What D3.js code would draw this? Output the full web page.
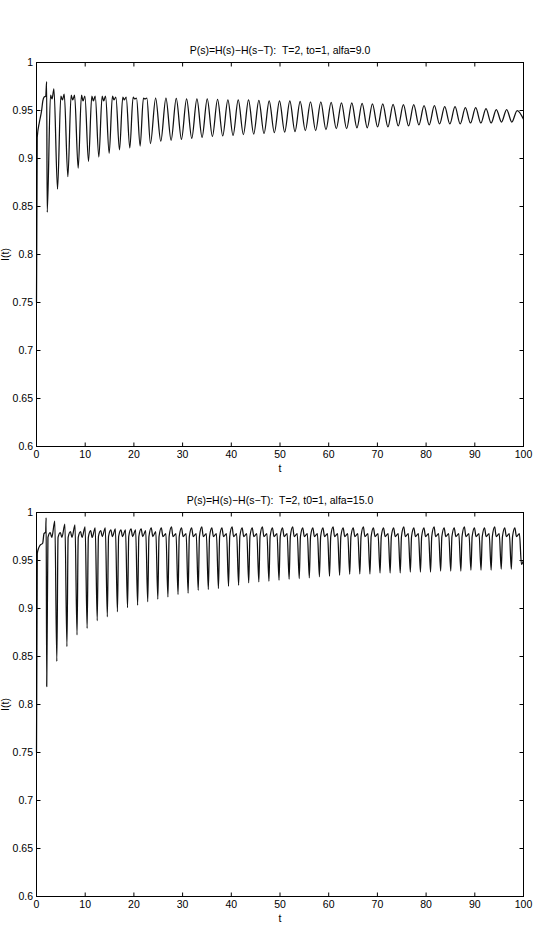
<!DOCTYPE html>
<html>
<head>
<meta charset="utf-8">
<script src="https://cdn.jsdelivr.net/npm/d3@7"></script>
<style>
body { margin: 0; background: #fff; }
text { font-family: "Liberation Sans", Arial, sans-serif; fill: #000; }
</style>
</head>
<body>
<div id="chart"></div>
<script>

// axis ticks
var xTicks = [0, 10, 20, 30, 40, 50, 60, 70, 80, 90, 100];
var yTicks = [0.6, 0.65, 0.7, 0.75, 0.8, 0.85, 0.9, 0.95, 1];

// top panel (alfa=9.0): first trough time, period, start and end of curve
var topTitle = "P(s)=H(s)\u2212H(s\u2212T):  T=2, to=1, alfa=9.0";
var topFirstTrough = 2.2;
var topPeriod = 2.12;
var topHeadT = [0, 0.15, 0.6, 1.05, 1.3, 1.55, 1.9, 2.08];
var topHeadI = [0.75, 0.922, 0.938, 0.950, 0.960, 0.964, 0.965, 0.980];
var topTrough = [0.844, 0.868, 0.881, 0.890, 0.897, 0.9015, 0.9055, 0.909, 0.911, 0.913,
    0.9156, 0.918, 0.919, 0.920, 0.921, 0.922, 0.923, 0.9235, 0.924, 0.925,
    0.9255, 0.926, 0.927, 0.9275, 0.928, 0.929, 0.929, 0.930, 0.931, 0.931,
    0.932, 0.932, 0.933, 0.933, 0.934, 0.934, 0.935, 0.935, 0.936, 0.936,
    0.936, 0.937, 0.937, 0.937, 0.938, 0.938];
var topPeak = [0.966, 0.965, 0.966, 0.966, 0.965, 0.965, 0.965, 0.964, 0.964, 0.963,
    0.963, 0.963, 0.9625, 0.962, 0.962, 0.962, 0.9615, 0.961, 0.961, 0.961,
    0.9605, 0.960, 0.960, 0.960, 0.9595, 0.959, 0.959, 0.9585, 0.958, 0.958,
    0.9575, 0.957, 0.957, 0.9565, 0.956, 0.956, 0.955, 0.955, 0.954, 0.954,
    0.953, 0.953, 0.952, 0.951, 0.951];
// early cycles have a double top
var topNotch = [0.962, 0.961, 0.961, 0.960, 0.960, 0.960, 0.961, 0.961, 0.962, 0.962];
var topPeak2 = [0.9725, 0.967, 0.966, 0.965, 0.965, 0.965, 0.964, 0.964, 0.963, 0.963];
var topTailT = [98.7, 100];
var topTailI = [0.950, 0.941];

// bottom panel (alfa=15.0)
var botTitle = "P(s)=H(s)\u2212H(s\u2212T):  T=2, t0=1, alfa=15.0";
var botFirstTrough = 2.1;
var botPeriod = 2.074;
var botHeadT = [0, 0.16, 0.37, 0.72, 1.27, 1.54, 1.88, 1.98];
var botHeadI = [0.75, 0.957, 0.962, 0.9658, 0.968, 0.978, 0.9796, 0.9945];
var botTrough = [0.8187, 0.845, 0.8603, 0.8724, 0.8793, 0.8873, 0.8914, 0.8966, 0.9008, 0.9035,
    0.907, 0.9098, 0.912, 0.9146, 0.916, 0.919, 0.9198, 0.9208, 0.9232, 0.9243,
    0.9267, 0.9277, 0.9284, 0.9295, 0.9305, 0.9312, 0.9319, 0.933, 0.9336, 0.9346,
    0.9357, 0.936, 0.936, 0.937, 0.937, 0.937, 0.938, 0.938, 0.938, 0.939,
    0.939, 0.939, 0.940, 0.940, 0.940, 0.941, 0.941, 0.946];
var botPeakA = [0.979, 0.979, 0.980, 0.980, 0.981, 0.981, 0.982, 0.982, 0.983, 0.983,
    0.984, 0.984, 0.985, 0.984, 0.984, 0.985, 0.984, 0.984, 0.985, 0.984,
    0.984, 0.985, 0.984, 0.984, 0.985, 0.984, 0.984, 0.984, 0.985, 0.984,
    0.984, 0.985, 0.984, 0.984, 0.984, 0.985, 0.984, 0.984, 0.985, 0.984,
    0.984, 0.985, 0.984, 0.984, 0.985, 0.984, 0.984];
var botNotch = [0.974, 0.974, 0.974, 0.974, 0.974, 0.975, 0.975, 0.975, 0.975, 0.975,
    0.975, 0.975, 0.975, 0.975, 0.975, 0.975, 0.975, 0.975, 0.975, 0.975,
    0.975, 0.975, 0.975, 0.975, 0.975, 0.975, 0.975, 0.975, 0.975, 0.975,
    0.975, 0.975, 0.975, 0.975, 0.975, 0.975, 0.975, 0.975, 0.975, 0.975,
    0.975, 0.975, 0.975, 0.975, 0.975, 0.975, 0.975];
var botPeakB = [0.991, 0.988, 0.987, 0.985, 0.984, 0.984, 0.983, 0.982, 0.982, 0.981,
    0.980, 0.978, 0.978, 0.978, 0.978, 0.978, 0.978, 0.978, 0.978, 0.978,
    0.978, 0.978, 0.978, 0.978, 0.978, 0.978, 0.978, 0.978, 0.978, 0.978,
    0.978, 0.978, 0.978, 0.978, 0.978, 0.978, 0.978, 0.978, 0.978, 0.978,
    0.978, 0.978, 0.978, 0.978, 0.978, 0.978, 0.978];
var botTailT = [100];
var botTailI = [0.950];

var width = 536, height = 931;
var margin = { left: 36.5 };
var plot_width = 487, plot_height = 384;

function build_top_points() {
    var pts = [];
    for (var i = 0; i < topHeadT.length; i++) pts.push([topHeadT[i], topHeadI[i]]);
    for (var k = 0; k < topTrough.length; k++) {
        var tk = topFirstTrough + k * topPeriod;
        pts.push([tk, topTrough[k]]);
        if (k >= topPeak.length) continue;
        if (k < topNotch.length) {
            pts.push([tk + 0.32 * topPeriod, topPeak[k]]);
            pts.push([tk + 0.47 * topPeriod, topNotch[k]]);
            pts.push([tk + 0.65 * topPeriod, topPeak2[k]]);
        } else {
            pts.push([tk + 0.5 * topPeriod, topPeak[k]]);
        }
    }
    for (var j = 0; j < topTailT.length; j++) pts.push([topTailT[j], topTailI[j]]);
    return pts;
}

function build_bottom_points() {
    var pts = [];
    for (var i = 0; i < botHeadT.length; i++) pts.push([botHeadT[i], botHeadI[i]]);
    for (var k = 0; k < botTrough.length; k++) {
        var tk = botFirstTrough + k * botPeriod;
        pts.push([tk, botTrough[k]]);
        if (k >= botPeakA.length) continue;
        pts.push([tk + 0.12 * botPeriod, botNotch[k]]);
        pts.push([tk + 0.35 * botPeriod, botPeakA[k]]);
        pts.push([tk + 0.5 * botPeriod, botNotch[k]]);
        pts.push([tk + 0.8 * botPeriod, botPeakB[k]]);
    }
    for (var j = 0; j < botTailT.length; j++) pts.push([botTailT[j], botTailI[j]]);
    return pts;
}

var svg = d3.select("#chart")
    .append("svg")
    .attr("width", width)
    .attr("height", height);

function draw_panel(top, title, points) {

    var g = svg.append("g")
        .attr("transform", "translate(" + margin.left + "," + top + ")");

    var xScale = d3.scaleLinear().domain([0, 100]).range([0, plot_width]);
    var yScale = d3.scaleLinear().domain([0.6, 1]).range([plot_height, 0]);

    var fmt = d3.format("~g");

    g.append("g")
        .attr("transform", "translate(0," + plot_height + ")")
        .call(d3.axisBottom(xScale).tickValues(xTicks).tickFormat(fmt)
            .tickSizeInner(-4).tickSizeOuter(0).tickPadding(4.5).offset(0))
        .call(function(a) { a.select(".domain").remove(); })
        .selectAll("text").style("font-size", "10.5px").attr("fill", "#000");

    g.append("g")
        .call(d3.axisTop(xScale).tickValues(xTicks).tickFormat("")
            .tickSizeInner(-4).tickSizeOuter(0).offset(0))
        .call(function(a) { a.select(".domain").remove(); });

    g.append("g")
        .call(d3.axisLeft(yScale).tickValues(yTicks).tickFormat(fmt)
            .tickSizeInner(-4).tickSizeOuter(0).tickPadding(3.5).offset(0))
        .call(function(a) { a.select(".domain").remove(); })
        .selectAll("text").style("font-size", "10.5px").attr("fill", "#000");

    g.append("g")
        .attr("transform", "translate(" + plot_width + ",0)")
        .call(d3.axisRight(yScale).tickValues(yTicks).tickFormat("")
            .tickSizeInner(-4).tickSizeOuter(0).offset(0))
        .call(function(a) { a.select(".domain").remove(); });

    g.selectAll(".tick line").attr("stroke", "#000");

    var line = d3.line()
        .x(function(d) { return xScale(d[0]); })
        .y(function(d) { return yScale(d[1]); })
        .curve(d3.curveMonotoneX);

    g.append("path")
        .datum(points)
        .attr("d", line)
        .attr("fill", "none")
        .attr("stroke", "#111")
        .attr("stroke-width", 1.25)
        .attr("stroke-linejoin", "round");

    g.append("rect")
        .attr("width", plot_width)
        .attr("height", plot_height)
        .attr("fill", "none")
        .attr("stroke", "#000")
        .attr("stroke-width", 1);

    g.append("text")
        .attr("x", plot_width / 2)
        .attr("y", -9)
        .attr("text-anchor", "middle")
        .style("font-size", "10.5px")
        .style("white-space", "pre")
        .text(title);

    g.append("text")
        .attr("x", plot_width / 2)
        .attr("y", plot_height + 25)
        .attr("text-anchor", "middle")
        .style("font-size", "10.5px")
        .text("t");

    g.append("text")
        .attr("transform", "translate(-28," + (plot_height / 2) + ") rotate(-90)")
        .attr("text-anchor", "middle")
        .style("font-size", "10.5px")
        .text("I(t)");
}

draw_panel(62.5, topTitle, build_top_points());
draw_panel(512.5, botTitle, build_bottom_points());

</script>
</body>
</html>
